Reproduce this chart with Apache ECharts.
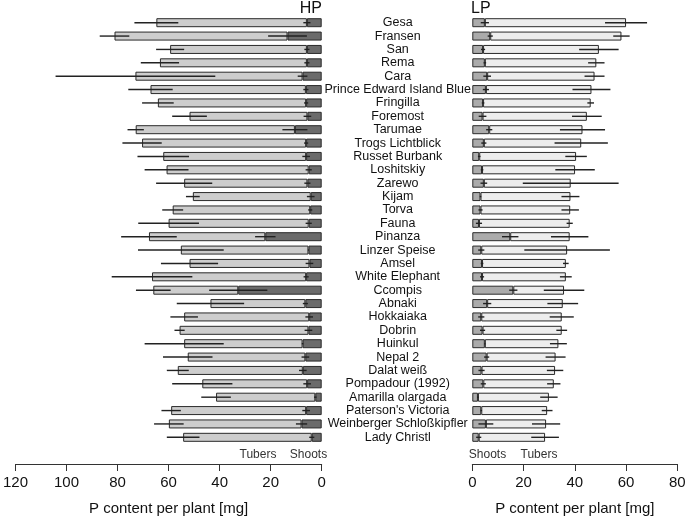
<!DOCTYPE html>
<html>
<head>
<meta charset="utf-8">
<script src="https://cdn.jsdelivr.net/npm/echarts@6/dist/echarts.min.js"></script>
<style>
html,body{margin:0;padding:0;background:#fff;}
#chart{width:689px;height:521px;}
</style>
</head>
<body>
<div id="chart"></div>
<script>
const categories = ["Gesa","Fransen","San","Rema","Cara","Prince Edward Island Blue","Fringilla","Foremost","Tarumae","Trogs Lichtblick","Russet Burbank","Loshitskiy","Zarewo","Kijam","Torva","Fauna","Pinanza","Linzer Speise","Amsel","White Elephant","Ccompis","Abnaki","Hokkaiaka","Dobrin","Huinkul","Nepal 2","Dalat weiß","Pompadour (1992)","Amarilla olargada","Paterson's Victoria","Weinberger Schloßkipfler","Lady Christl"];

const hpShoots = [5.8,13.4,5.8,5.8,7.5,6.2,6.1,5.6,10.5,6.1,6.1,5.1,5.6,4.3,4.5,5.1,22.1,5.2,4.8,6.1,32.7,6.4,4.9,5.2,7.5,6.4,7.4,5.7,2.5,6.1,7.9,3.9];
const hpTubers = [59.0,67.8,53.6,57.6,65.5,60.9,58.1,46.2,62.4,64.3,56.0,55.7,48.3,46.2,53.9,54.9,45.6,50.0,47.0,60.4,33.3,37.2,49.0,50.5,46.4,46.1,49.0,41.1,38.9,52.9,52.0,50.4];
const hpShootsErr = [1.4,7.6,1.0,1.0,1.9,1.0,0.8,1.5,4.9,0.8,1.5,1.2,1.2,1.5,0.8,1.2,4.0,0.2,1.5,1.0,11.4,1.0,1.5,1.5,0.3,1.5,1.5,1.5,0.5,1.5,2.2,1.0];
const hpTubersErr = [8.6,5.8,5.5,7.5,31.3,8.7,6.2,6.8,3.2,7.7,10.1,8.6,11.0,2.7,4.1,11.9,10.9,16.8,11.2,15.8,6.8,13.2,5.4,2.0,15.5,9.7,4.3,11.8,5.8,3.8,5.8,6.4];

const lpShoots = [4.9,7.0,4.2,4.9,5.8,5.3,4.2,4.0,6.6,4.5,2.7,3.8,4.5,3.2,3.2,2.6,14.8,3.5,3.8,3.8,16.0,5.8,3.5,4.0,4.9,5.6,3.6,4.3,2.2,3.5,5.3,2.5];
const lpTubers = [55.1,51.2,45.2,43.5,41.9,41.2,42.0,40.7,36.4,38.0,37.8,36.3,33.9,35.1,35.0,35.4,23.2,33.5,32.7,32.7,19.8,29.5,31.4,30.9,28.7,26.9,28.7,27.5,27.7,25.7,23.5,25.9];
const lpShootsErr = [1.6,1.0,0.8,0.5,1.5,1.2,0.5,1.5,1.2,1.0,0.5,0.5,1.3,0.3,0.8,1.2,3.2,1.2,0.5,0.8,1.6,1.6,1.2,1.0,0.2,1.0,1.2,1.0,0.3,0.3,2.9,1.0];
const lpTubersErr = [8.2,3.2,7.7,3.2,3.9,7.4,1.3,5.8,8.8,10.4,4.2,7.7,18.7,3.5,3.4,1.2,7.3,16.7,1.1,2.3,7.9,6.0,4.7,2.1,3.3,3.9,3.2,2.6,3.4,2.1,5.5,5.4];

const xTicksHP = {min: 0, max: 120, interval: 20};
const xTicksLP = {min: 0, max: 80, interval: 20};

function errData(base, err) {
  return base.map((v, i) => [v - err[i], v + err[i], i]);
}
const hpTotals = hpShoots.map((v, i) => v + hpTubers[i]);
const lpTotals = lpShoots.map((v, i) => v + lpTubers[i]);

function errSeries(data, xi, yi) {
  return {
    type: 'custom',
    xAxisIndex: xi, yAxisIndex: yi,
    z: 10,
    silent: true,
    renderItem: function (params, api) {
      const a = api.coord([api.value(0), api.value(2)]);
      const b = api.coord([api.value(1), api.value(2)]);
      return {
        type: 'line',
        shape: {x1: a[0], y1: a[1], x2: b[0], y2: b[1]},
        style: {stroke: '#222', lineWidth: 1.4}
      };
    },
    encode: {x: [0, 1], y: 2},
    data: data
  };
}

const chart = echarts.init(document.getElementById('chart'), null, {renderer: 'canvas'});
const textFont = 'Liberation Sans, Arial, Helvetica, sans-serif';
const barBorder = {borderColor: '#2a2a2a', borderWidth: 1};
const BW = 9;

function xAxisCfg(gi, t, inverse) {
  return {
    gridIndex: gi, type: 'value', min: t.min, max: t.max, interval: t.interval,
    inverse: inverse, position: 'bottom', offset: 20,
    axisLine: {show: true, lineStyle: {color: '#333', width: 1}},
    axisTick: {show: true, inside: false, length: 7, lineStyle: {color: '#333'}},
    splitLine: {show: false},
    axisLabel: {fontSize: 15, color: '#111', margin: 11, fontFamily: textFont},
    name: 'P content per plant [mg]', nameLocation: 'middle', nameGap: 37,
    nameTextStyle: {fontSize: 15, color: '#111', fontFamily: textFont}
  };
}

const option = {
  animation: false,
  backgroundColor: '#fff',
  grid: [
    {left: 14, width: 307.7, top: 16, bottom: 75.3, containLabel: false},
    {left: 472.3, width: 205, top: 16, bottom: 75.3, containLabel: false}
  ],
  xAxis: [xAxisCfg(0, xTicksHP, true), xAxisCfg(1, xTicksLP, false)],
  yAxis: [
    {gridIndex: 0, type: 'category', data: categories, inverse: true, position: 'right',
     axisLine: {show: false}, axisTick: {show: false}, splitLine: {show: false},
     axisLabel: {show: true, interval: 0, margin: 76, align: 'center', fontSize: 12.5, color: '#111', fontFamily: textFont, padding: [0, 0, 3, 0]}},
    {gridIndex: 1, type: 'category', data: categories, inverse: true,
     axisLine: {show: false}, axisTick: {show: false}, splitLine: {show: false},
     axisLabel: {show: false}}
  ],
  series: [
    {type: 'bar', name: 'HP Shoots', xAxisIndex: 0, yAxisIndex: 0, stack: 'hp', barWidth: BW,
     itemStyle: Object.assign({color: '#6b6b6b'}, barBorder), data: hpShoots},
    {type: 'bar', name: 'HP Tubers', xAxisIndex: 0, yAxisIndex: 0, stack: 'hp', barWidth: BW,
     itemStyle: Object.assign({color: '#cdcdcd'}, barBorder), data: hpTubers},
    {type: 'bar', name: 'LP Shoots', xAxisIndex: 1, yAxisIndex: 1, stack: 'lp', barWidth: BW,
     itemStyle: Object.assign({color: '#ababab'}, barBorder), data: lpShoots},
    {type: 'bar', name: 'LP Tubers', xAxisIndex: 1, yAxisIndex: 1, stack: 'lp', barWidth: BW,
     itemStyle: Object.assign({color: '#ededed'}, barBorder), data: lpTubers},
    errSeries(errData(hpShoots, hpShootsErr), 0, 0),
    errSeries(errData(hpTotals, hpTubersErr), 0, 0),
    errSeries(errData(lpShoots, lpShootsErr), 1, 1),
    errSeries(errData(lpTotals, lpTubersErr), 1, 1)
  ],
  graphic: [
    {type: 'text', x: 322, y: 9, style: {text: 'HP', fontSize: 16, fill: '#111', align: 'right', verticalAlign: 'middle', fontFamily: textFont}},
    {type: 'text', x: 471, y: 9, style: {text: 'LP', fontSize: 16, fill: '#111', align: 'left', verticalAlign: 'middle', fontFamily: textFont}},
    {type: 'text', x: 258, y: 455, style: {text: 'Tubers', fontSize: 12, fill: '#333', align: 'center', verticalAlign: 'middle', fontFamily: textFont}},
    {type: 'text', x: 308.5, y: 455, style: {text: 'Shoots', fontSize: 12, fill: '#333', align: 'center', verticalAlign: 'middle', fontFamily: textFont}},
    {type: 'text', x: 487.5, y: 455, style: {text: 'Shoots', fontSize: 12, fill: '#333', align: 'center', verticalAlign: 'middle', fontFamily: textFont}},
    {type: 'text', x: 539, y: 455, style: {text: 'Tubers', fontSize: 12, fill: '#333', align: 'center', verticalAlign: 'middle', fontFamily: textFont}}
  ]
};
chart.setOption(option);
</script>
</body>
</html>
